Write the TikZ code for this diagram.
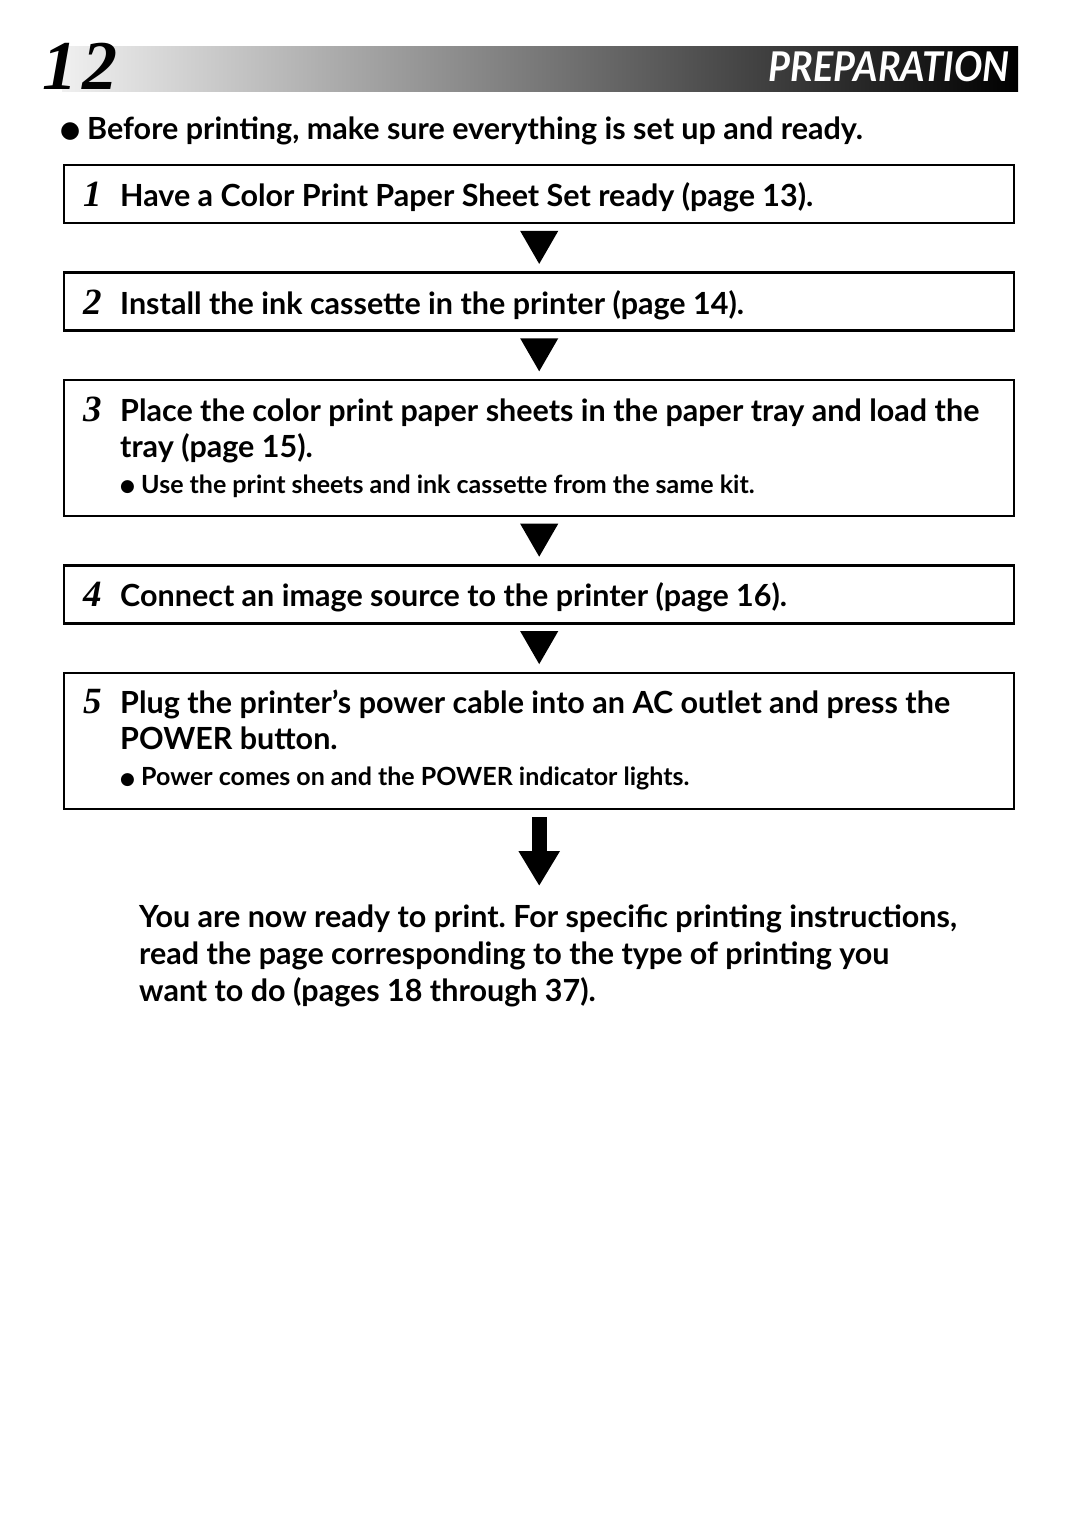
\documentclass[tikz,border=0pt]{standalone}
\usepackage{fontspec}
\setmainfont{Lato}
\newfontfamily\numfont{Liberation Serif}
\newfontfamily\symfont{DejaVu Sans}
\usetikzlibrary{arrows.meta,positioning,shapes.geometric}

\newcommand{\stepnum}[1]{\makebox[37pt][l]{\numfont\bfseries\itshape\fontsize{37}{36}\selectfont #1}}
\newcommand{\stepitem}[2]{\stepnum{#1}\parbox[t]{875pt}{\raggedright\frenchspacing\rule{0pt}{34pt}#2\rule[-9pt]{0pt}{0pt}}}
\newcommand{\stepnote}[1]{\par{\fontsize{25}{36}\selectfont\makebox[21pt][l]{\raisebox{1.5pt}{\symfont\fontsize{17}{17}\selectfont ●}}#1\rule[-16pt]{0pt}{0pt}}}

\begin{document}
\begin{tikzpicture}[x=1pt, y=-1pt,
  stepbox/.style={draw, line width=2.4pt, minimum width=950pt, minimum height=58pt,
                  inner xsep=19pt, inner ysep=7pt,
                  font=\bfseries\fontsize{30.5}{36}\selectfont},
  tri/.style={regular polygon, regular polygon sides=3, shape border rotate=180,
              fill=black, inner sep=0pt, minimum size=44pt, yshift=6pt},
  bigarrow/.style={-{Triangle[length=35pt,width=39pt]}, line width=15pt,
                   shorten <=7pt},
  node distance=47pt
]
  \useasboundingbox (0,0) rectangle (1080,1533);

  % header strip
  \shade[left color=black!6, right color=black] (62,47) rectangle (1018,92);
  \node[anchor=base west, inner sep=0pt, font=\numfont\bfseries\itshape\fontsize{70}{70}\selectfont]
    (pagenum) at (42,90) {1\kern5pt 2};
  \node[anchor=base east, inner sep=0pt, text=white,
        font=\bfseries\itshape\fontsize{41}{41}\selectfont]
    (title) at (1010,82) {\scalebox{0.92}[1]{PREPARATION}};

  \node[anchor=base west, inner sep=0pt, font=\bfseries\fontsize{30.5}{36}\selectfont]
    (intro) at (60,140) {\makebox[27pt][l]{\raisebox{2pt}{\symfont\fontsize{23}{23}\selectfont ●}}Before printing, make sure everything is set up and ready.};

  % the five steps
  \node[stepbox, anchor=north west] (step1) at (63,164)
    {\stepitem{1}{Have a Color Print Paper Sheet Set ready (page 13).}};
  \node[stepbox, below=of step1] (step2)
    {\stepitem{2}{Install the ink cassette in the printer (page 14).}};
  \node[stepbox, below=of step2] (step3)
    {\stepitem{3}{Place the color print paper sheets in the paper tray and load the\\
     tray (page 15).\stepnote{Use the print sheets and ink cassette from the same kit.}}};
  \node[stepbox, below=of step3] (step4)
    {\stepitem{4}{Connect an image source to the printer (page 16).}};
  \node[stepbox, below=of step4] (step5)
    {\stepitem{5}{Plug the printer's power cable into an AC outlet and press the\\
     POWER button.\stepnote{Power comes on and the POWER indicator lights.}}};

  \node[anchor=north west, align=left, inner sep=0pt,
        font=\bfseries\frenchspacing\fontsize{30.5}{37}\selectfont] (ready) at (139,905)
    {You are now ready to print. For specific printing instructions,\\
     read the page corresponding to the type of printing you\\
     want to do (pages 18 through 37).};

  \path (step1) -- node[tri] (tri1) {} (step2);
  \path (step2) -- node[tri] (tri2) {} (step3);
  \path (step3) -- node[tri] (tri3) {} (step4);
  \path (step4) -- node[tri] (tri4) {} (step5);
  \draw[bigarrow] (step5.south) -- ([yshift=19pt]step5.south |- ready.north);
\end{tikzpicture}
\end{document}
